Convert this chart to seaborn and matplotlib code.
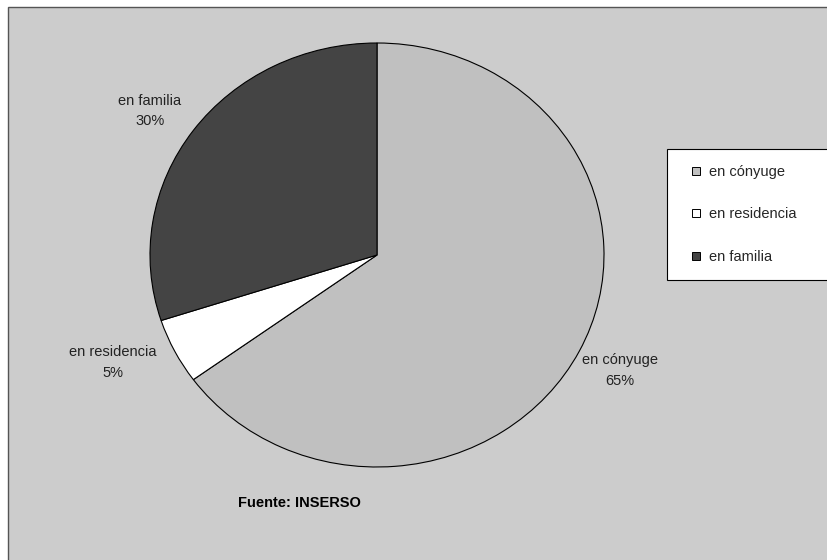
import seaborn as sns
import matplotlib.pyplot as plt
import numpy as np
from matplotlib.patches import Rectangle
from matplotlib.lines import Line2D

# datos (INSERSO)
categorias = ['en cónyuge', 'en residencia', 'en familia']
porcentajes = [65, 5, 30]
colores = ['#C0C0C0', '#FFFFFF', '#444444']

sns.set_theme(style='white')
plt.rcParams['font.family'] = ['Liberation Sans', 'DejaVu Sans']

W, H = 827, 560
FS = 10.5
fig = plt.figure(figsize=(W / 100, H / 100), dpi=100)
fig.patch.set_facecolor('white')

# fondo del grafico (recortado a la derecha y abajo)
fig.patches.append(Rectangle((8 / W, -0.05), 1.1, 1 - 7 / H + 0.05, transform=fig.transFigure,
                             facecolor='#CCCCCC', edgecolor='#555555', linewidth=1.0, zorder=-5))

# pie ligeramente achatado, como en Excel
cx, cy, rx, ry = 377, 255, 227, 212
ax = fig.add_axes([(cx - rx) / W, 1 - (cy + ry) / H, 2 * rx / W, 2 * ry / H])
ax.set_zorder(2)
ax.set_facecolor('none')
wedges, _ = ax.pie(porcentajes, colors=colores, startangle=90, counterclock=False,
                   wedgeprops=dict(edgecolor='black', linewidth=0.8))
ax.set_aspect('auto')
ax.set_xlim(-1, 1)
ax.set_ylim(-1, 1)
ax.axis('off')

# distancia y pequeno giro de cada etiqueta
dist = [1.2, 1.27, 1.21]
giro = [0, -3.5, 1.8]
for w, cat, p, d, g in zip(wedges, categorias, porcentajes, dist, giro):
    ang = np.deg2rad((w.theta1 + w.theta2) / 2 + g)
    ax.text(d * np.cos(ang), d * np.sin(ang), f'{cat}\n{p}%', ha='center', va='center',
            fontsize=FS, color='#222222', linespacing=1.6, clip_on=False)

handles = [Line2D([], [], linestyle='none', marker='s', markersize=5.5, markerfacecolor=c,
                  markeredgecolor='black', markeredgewidth=0.7) for c in colores]
leg = fig.legend(handles, categorias, loc='upper left',
                 bbox_to_anchor=(667 / W, 1 - 277 / H, 200 / W, 128 / H), mode='expand',
                 fontsize=FS, frameon=True, fancybox=False, edgecolor='black', framealpha=1,
                 handlelength=1.8, handletextpad=0.0, labelspacing=1.95,
                 borderpad=1.1, borderaxespad=0)
leg.get_frame().set_linewidth(0.8)
leg.get_frame().set_facecolor('white')
leg.set_zorder(3)

fig.text(238 / W, 1 - 503 / H, 'Fuente: INSERSO', fontsize=FS, fontweight='bold',
         ha='left', va='center', color='black')

fig.savefig('out.png', dpi=100)
